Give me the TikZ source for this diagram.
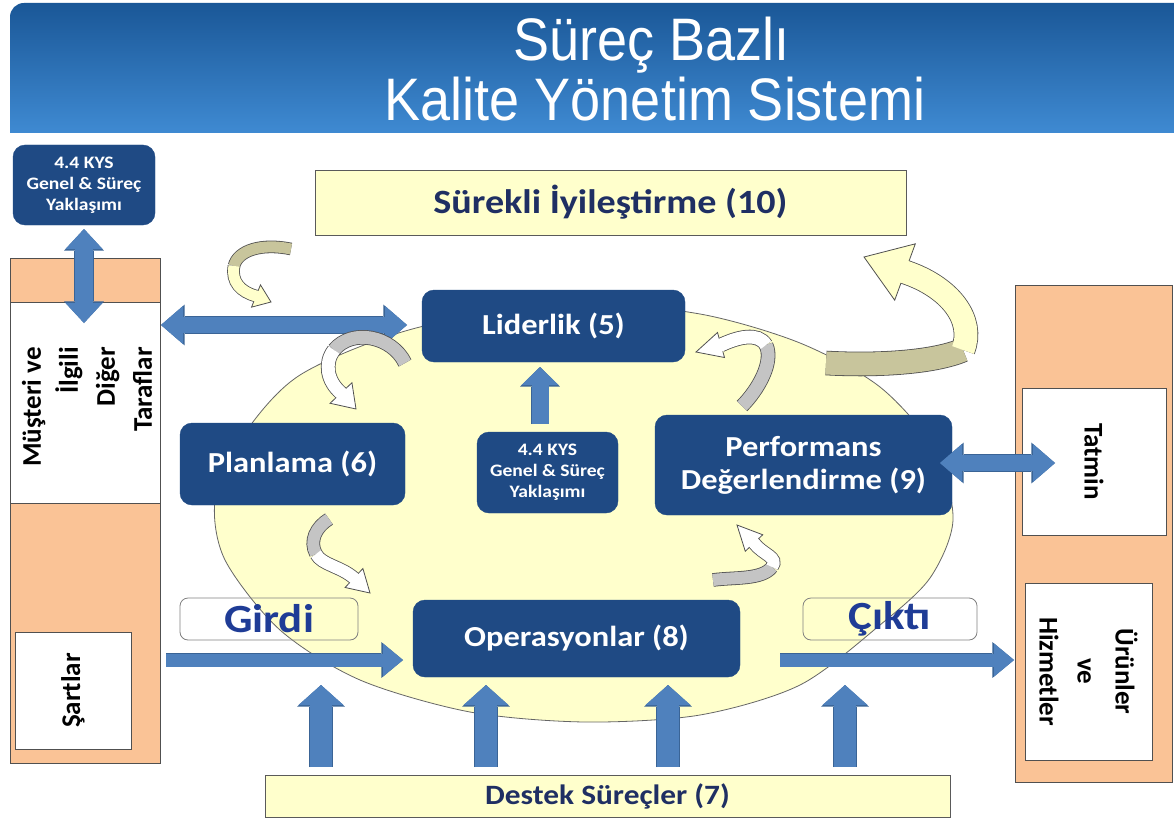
\documentclass[tikz,border=0pt]{standalone}
\usepackage{fontspec}
\setmainfont{Carlito}
\newfontfamily\wfont[FakeStretch=1.12]{Carlito}
\newfontfamily\titlefont[FakeStretch=0.9]{Liberation Sans}
\usetikzlibrary{calc,arrows.meta}
\definecolor{navy}{HTML}{1F4A84}
\definecolor{bfill}{HTML}{4F81BD}
\definecolor{bdark}{HTML}{3A6496}
\definecolor{peach}{HTML}{FAC396}
\definecolor{pale}{HTML}{FFFFCC}
\definecolor{txtnavy}{HTML}{1F2F63}
\definecolor{txtblue}{HTML}{1F3C96}
\definecolor{khaki}{HTML}{C8C59C}
\definecolor{lgray}{HTML}{C4C4C4}
\definecolor{cline}{HTML}{505050}
\definecolor{bannertop}{HTML}{1A5797}
\definecolor{bannerbot}{HTML}{3F8AD2}
\definecolor{boxline}{HTML}{5A5A5A}
\tikzset{
  darkbox/.style={fill=navy, draw=navy, rounded corners=12pt, text=white, align=center, inner sep=0pt,
    font=\wfont\bfseries\fontsize{29}{33}\selectfont},
  smallbox/.style={darkbox, font=\wfont\bfseries\fontsize{17.5}{21}\selectfont},
  palebox/.style={fill=pale, draw=boxline, line width=0.8pt, text=txtnavy, inner sep=0pt},
  iobox/.style={draw=gray, line width=0.8pt, rounded corners=8pt, text=txtblue, inner sep=0pt,
    font=\wfont\bfseries\fontsize{40}{44}\selectfont},
  colbox/.style={fill=peach, draw=cline, line width=0.8pt, inner sep=0pt},
  whitebox/.style={fill=white, draw=cline, line width=0.6pt, inner sep=0pt, align=center,
    font=\bfseries\fontsize{27}{38}\selectfont},
  titletxt/.style={text=white, anchor=base, inner sep=0pt, font=\titlefont\fontsize{60}{60}\selectfont}
}
\newcommand\SArr[5]{%
 \pgfmathsetmacro\sao{#3+1.6}\pgfmathsetmacro\sbo{#4+2.8}\pgfmathsetmacro\sco{#5+1.6}%
 \draw[draw=bdark, line width=\sao pt, -{Triangle[width=\sbo pt,length=\sco pt,line width=0pt]}] #1 -- #2;
 \draw[draw=bfill, line width=#3pt, -{Triangle[width=#4pt,length=#5pt,line width=0pt]}] #1 -- #2;}
\newcommand\DArr[5]{%
 \pgfmathsetmacro\sao{#3+1.6}\pgfmathsetmacro\sbo{#4+2.8}\pgfmathsetmacro\sco{#5+1.6}%
 \draw[draw=bdark, line width=\sao pt, {Triangle[width=\sbo pt,length=\sco pt,line width=0pt]}-{Triangle[width=\sbo pt,length=\sco pt,line width=0pt]}] #1 -- #2;
 \draw[draw=bfill, line width=#3pt, {Triangle[width=#4pt,length=#5pt,line width=0pt]}-{Triangle[width=#4pt,length=#5pt,line width=0pt]}] #1 -- #2;}
\newcommand\CurvArr[8]{%
 \draw[line width=#5pt+1.6pt, draw=cline] #1;
 \draw[line width=#5pt+1.6pt, draw=cline] #2;
 \filldraw[fill=#8, draw=cline, line width=0.8pt, line join=miter] ($#3!#6pt!90:#4$) -- #4 -- ($#3!#6pt!-90:#4$) -- cycle;
 \draw[line width=#5pt, draw=#7] #1;
 \draw[line width=#5pt, draw=#8] #2 -- ($#3!2pt!#4$);}
\begin{document}
\begin{tikzpicture}[x=1pt,y=-1pt]
\useasboundingbox (0,0) rectangle (1174,821);
\fill[white] (0,0) rectangle (1174,821);
% banner
\shade[top color=bannertop, bottom color=bannerbot] (10,133) [rounded corners=14pt] -- (10,3) [sharp corners] -- (1174,3) -- (1174,133) -- cycle;
\node[titletxt] (title1) at (652,61) {Süreç Bazlı};
\node[titletxt] (title2) at (655,121) {Kalite Yönetim Sistemi};
% ellipse
\filldraw[fill=pale, draw=gray!80!black, line width=0.8pt] plot[smooth cycle] coordinates {
 (585,305) (700,314) (800,343) (880,387) (935,450) (953,520) (930,578) (880,625) (800,685)
 (700,715) (585,722) (470,712) (360,680) (280,630) (225,560) (215,500) (240,440) (300,375) (420,327)};
% side columns
\node[colbox, minimum width=150pt, minimum height=505pt] (lcol) at (85,510.5) {};
\node[whitebox, minimum width=150pt, minimum height=201pt] (lwhite) at (85,402.5) {};
\node[rotate=90, align=right, inner sep=0pt, font=\bfseries\fontsize{27}{37}\selectfont] (musteri) at (87,407) {Müşteri ve\\İlgili\\Diğer\\Taraflar};
\node[whitebox, rotate=90, minimum width=117pt, minimum height=116pt] (sartlar) at (73,690.5) {Şartlar};
\node[colbox, minimum width=157pt, minimum height=497pt] (rcol) at (1093.5,533.5) {};
\node[whitebox, rotate=-90, minimum width=147pt, minimum height=144pt] (tatmin) at (1094,461.5) {Tatmin};
\node[whitebox, rotate=-90, minimum width=177pt, minimum height=127pt] (urunler) at (1088.5,671.5) {Ürünler\\ve\\Hizmetler};
% pale boxes
\node[palebox, minimum width=591pt, minimum height=65pt, font=\wfont\bfseries\fontsize{34}{38}\selectfont] (surekli) at (610.5,202.5) {Sürekli İyileştirme (10)};
\node[palebox, minimum width=685pt, minimum height=42pt, font=\wfont\bfseries\fontsize{28}{32}\selectfont] (destek) at (607.5,796) {Destek Süreçler (7)};
% dark boxes
\node[smallbox, minimum width=142pt, minimum height=80pt] (kys1) at (84,185) {4.4 KYS\\Genel \& Süreç\\Yaklaşımı};
\node[darkbox, minimum width=263pt, minimum height=72pt] (liderlik) at (553.5,326) {Liderlik (5)};
\node[darkbox, minimum width=225pt, minimum height=82pt] (planlama) at (292.5,464) {Planlama (6)};
\node[smallbox, minimum width=141pt, minimum height=81pt] (kys2) at (547.5,472.5) {4.4 KYS\\Genel \& Süreç\\Yaklaşımı};
\node[darkbox, minimum width=297pt, minimum height=100pt] (perf) at (803.5,465) {Performans\\Değerlendirme (9)};
\node[darkbox, minimum width=327pt, minimum height=77pt] (ops) at (576.5,638.5) {Operasyonlar (8)};
\node[iobox, minimum width=178pt, minimum height=42pt] (girdi) at (269,619) {Girdi};
\node[iobox, minimum width=174pt, minimum height=42pt] (cikti) at (890,619) {Çıktı};
% block arrows
\coordinate (vaT) at (84,229); \coordinate (vaB) at (84,323);
\coordinate (haL) at (161,325); \coordinate (haR) at (407,325);
\coordinate (giL) at (166,660); \coordinate (giR) at (403,660);
\coordinate (ckL) at (780,660); \coordinate (ckR) at (1014,660);
\coordinate (pfL) at (940,463); \coordinate (pfR) at (1055,463);
\coordinate (kyB) at (540,424); \coordinate (kyT) at (540,367);
\coordinate (u1B) at (321,767); \coordinate (u1T) at (321,685);
\coordinate (u2B) at (486,767); \coordinate (u2T) at (486,685);
\coordinate (u3B) at (668,767); \coordinate (u3T) at (668,685);
\coordinate (u4B) at (845,767); \coordinate (u4T) at (845,685);
\DArr{(vaT)}{(vaB)}{18}{37}{20}
\DArr{(haL)}{(haR)}{16}{38}{22}
\SArr{(giL)}{(giR)}{13}{33}{20}
\SArr{(ckL)}{(ckR)}{13}{33}{20}
\DArr{(pfL)}{(pfR)}{16}{38}{22}
\SArr{(kyB)}{(kyT)}{17}{37}{18}
\SArr{(u1B)}{(u1T)}{22}{45}{20}
\SArr{(u2B)}{(u2T)}{22}{45}{20}
\SArr{(u3B)}{(u3T)}{22}{45}{20}
\SArr{(u4B)}{(u4T)}{22}{45}{20}
% curved arrows
\CurvArr{(291,249) .. controls (262,243) and (238,250) .. (234,266)}{(234,266) .. controls (231,282) and (241,292) .. (256,296)}{(256,296)}{(271,302)}{11}{12}{khaki}{pale}
\CurvArr{(405,363) .. controls (392,336) and (352,328) .. (334,350)}{(334,350) .. controls (324,363) and (327,381) .. (341,393)}{(341,393)}{(356,409)}{13}{15}{lgray}{white}
\CurvArr{(329,519) .. controls (316,527) and (309,541) .. (316,554)}{(316,554) .. controls (322,565) and (340,566) .. (354,578)}{(354,578)}{(370,593)}{12}{13}{lgray}{white}
\CurvArr{(742,406) .. controls (758,390) and (774,362) .. (766,345)}{(766,345) .. controls (758,332) and (738,337) .. (721,345)}{(721,345)}{(696,352)}{13}{13}{lgray}{white}
\CurvArr{(713,580) .. controls (735,577) and (762,580) .. (772,567)}{(772,567) .. controls (779,557) and (763,555) .. (754,543)}{(754,543)}{(737,525)}{12}{12}{lgray}{white}
\CurvArr{(826,363) .. controls (880,366) and (935,362) .. (963,350)}{(963,350) .. controls (975,320) and (950,287) .. (905,272)}{(905,272)}{(864,257)}{23}{30}{khaki}{pale}
\end{tikzpicture}
\end{document}
